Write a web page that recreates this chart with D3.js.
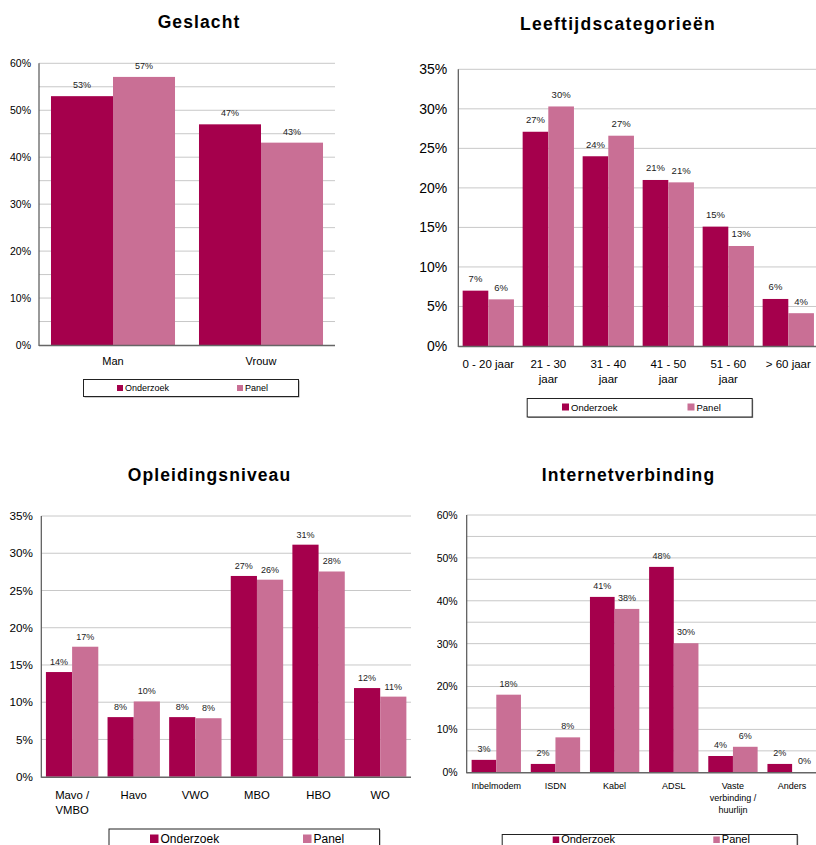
<!DOCTYPE html>
<html>
<head>
<meta charset="utf-8">
<script src="https://cdn.jsdelivr.net/npm/d3@7"></script>
<style>
  html, body { margin: 0; padding: 0; background: #fff; }
  svg { display: block; font-family: "Liberation Sans", Arial, sans-serif; }
</style>
</head>
<body>
<svg id="chart" width="816" height="845"></svg>
<script>
// ---------- DATA ----------
const seriesNames = ["Onderzoek", "Panel"];

const geslachtCategories = ["Man", "Vrouw"];
const geslachtOnderzoek = [53.0, 47.0];
const geslachtPanel = [57.1, 43.1];

const leeftijdCategories = ["0 - 20 jaar", "21 - 30|jaar", "31 - 40|jaar", "41 - 50|jaar", "51 - 60|jaar", "> 60 jaar"];
const leeftijdOnderzoek = [7.0, 27.1, 24.0, 21.0, 15.1, 5.95];
const leeftijdPanel = [5.9, 30.3, 26.6, 20.7, 12.65, 4.15];

const opleidingCategories = ["Mavo /|VMBO", "Havo", "VWO", "MBO", "HBO", "WO"];
const opleidingOnderzoek = [14.05, 8.0, 8.0, 26.95, 31.15, 11.9];
const opleidingPanel = [17.45, 10.1, 7.85, 26.45, 27.55, 10.75];

const internetCategories = ["Inbelmodem", "ISDN", "Kabel", "ADSL", "Vaste|verbinding /|huurlijn", "Anders"];
const internetOnderzoek = [2.9, 1.95, 40.9, 47.9, 3.8, 1.95];
const internetPanel = [18.1, 8.15, 38.1, 30.1, 5.95, 0.0];

const geslachtTicks = [0, 10, 20, 30, 40, 50, 60];
const leeftijdTicks = [0, 5, 10, 15, 20, 25, 30, 35];
const opleidingTicks = [0, 5, 10, 15, 20, 25, 30, 35];
const internetTicks = [0, 10, 20, 30, 40, 50, 60];

// ---------- STYLE ----------
const colors = ["#a5004c", "#c96f95"];
const svg = d3.select("#chart");

function drawChart(cfg) {
  const g = svg.append("g");
  const x = d3.scaleBand().domain(cfg.categories).range([cfg.x0, cfg.x1])
    .paddingInner(cfg.pad).paddingOuter(cfg.pad / 2);
  const xs = d3.scaleBand().domain(seriesNames).range([0, x.bandwidth()]);
  const y = d3.scaleLinear().domain([0, cfg.max]).range([cfg.y0, cfg.y1]);

  // gridlines every 5%
  const grid = d3.range(5, cfg.max + 0.1, 5);
  g.append("g").selectAll("line").data(grid).join("line")
    .attr("x1", cfg.x0).attr("x2", cfg.gridEnd)
    .attr("y1", d => y(d)).attr("y2", d => y(d))
    .attr("stroke", "#c8c8c8").attr("stroke-width", 1);

  // y axis labels
  const yAxis = d3.axisLeft(y).tickValues(cfg.ticks).tickSize(0).tickPadding(cfg.tickPad)
    .tickFormat(d => d + "%");
  const ya = g.append("g").attr("transform", `translate(${cfg.x0},0)`).call(yAxis);
  ya.select(".domain").remove();
  ya.selectAll("text").attr("font-size", cfg.tickFont).attr("fill", "#000")
    .attr("font-family", "Liberation Sans, Arial, sans-serif");

  // bars
  const rows = cfg.categories.map((c, i) => ({ c, vals: [cfg.s1[i], cfg.s2[i]] }));
  const grp = g.append("g").selectAll("g").data(rows).join("g")
    .attr("transform", d => `translate(${x(d.c)},0)`);
  grp.selectAll("rect").data(d => d.vals.map((v, k) => ({ v, k }))).join("rect")
    .attr("x", d => xs(seriesNames[d.k]))
    .attr("width", xs.bandwidth())
    .attr("y", d => y(d.v))
    .attr("height", d => y(0) - y(d.v))
    .attr("fill", d => colors[d.k]);
  grp.selectAll("text").data(d => d.vals.map((v, k) => ({ v, k }))).join("text")
    .attr("x", d => xs(seriesNames[d.k]) + xs.bandwidth() / 2)
    .attr("y", d => y(d.v) - cfg.valOff)
    .attr("text-anchor", "middle")
    .attr("font-size", cfg.valFont)
    .attr("fill", "#222")
    .text(d => Math.round(d.v) + "%");

  // axes lines
  g.append("line").attr("x1", cfg.x0).attr("x2", cfg.x0)
    .attr("y1", y(cfg.max)).attr("y2", y(0) + 1)
    .attr("stroke", "#555").attr("stroke-width", 1.2);
  g.append("line").attr("x1", cfg.x0).attr("x2", cfg.gridEnd)
    .attr("y1", y(0) + 0.5).attr("y2", y(0) + 0.5)
    .attr("stroke", "#666").attr("stroke-width", 1.6);

  // category labels
  const cat = g.append("g").selectAll("text").data(cfg.categories).join("text")
    .attr("x", d => x(d) + x.bandwidth() / 2)
    .attr("y", cfg.catY)
    .attr("text-anchor", "middle")
    .attr("font-size", cfg.catFont)
    .attr("fill", "#000");
  cat.selectAll("tspan").data(d => d.split("|")).join("tspan")
    .attr("x", function () { return d3.select(this.parentNode).attr("x"); })
    .attr("dy", (d, i) => i === 0 ? 0 : cfg.catLine)
    .text(d => d);

  // title
  g.append("text").attr("x", cfg.titleX).attr("y", cfg.titleY)
    .attr("text-anchor", "middle").attr("font-weight", "bold")
    .attr("font-size", 17.5).attr("letter-spacing", cfg.titleLs)
    .attr("fill", "#000").text(cfg.title);

  // legend
  const L = cfg.legend;
  g.append("rect").attr("x", L.x + 1.5).attr("y", L.y + 1.5).attr("width", L.w).attr("height", L.h)
    .attr("fill", "#999");
  g.append("rect").attr("x", L.x + 0.5).attr("y", L.y + 0.5).attr("width", L.w).attr("height", L.h)
    .attr("fill", "#fff").attr("stroke", "#222").attr("stroke-width", 1);
  seriesNames.forEach((s, k) => {
    g.append("rect").attr("x", L.sx[k]).attr("y", L.ty - L.sw)
      .attr("width", L.sw).attr("height", L.sw).attr("fill", colors[k]);
    g.append("text").attr("x", L.sx[k] + L.sw + 2).attr("y", L.ty)
      .attr("font-size", L.fs).attr("fill", "#000").text(s);
  });
}

drawChart({
  title: "Geslacht", titleX: 199, titleY: 28, titleLs: 1.1,
  categories: geslachtCategories, s1: geslachtOnderzoek, s2: geslachtPanel,
  x0: 39, x1: 335, gridEnd: 335, pad: 0.162, y0: 345, y1: 63.3, max: 60,
  ticks: geslachtTicks, tickFont: 10.5, tickPad: 8, valFont: 9, valOff: 8,
  catY: 365, catFont: 11, catLine: 14,
  legend: { x: 83, y: 379, w: 215, h: 17, sx: [117, 237], sw: 6, ty: 391, fs: 9 }
});

drawChart({
  title: "Leeftijdscategorieën", titleX: 618, titleY: 30, titleLs: 1.3,
  categories: leeftijdCategories, s1: leeftijdOnderzoek, s2: leeftijdPanel,
  x0: 458.3, x1: 818.3, gridEnd: 830, pad: 0.145, y0: 346, y1: 69.3, max: 35,
  ticks: leeftijdTicks, tickFont: 14, tickPad: 11, valFont: 9.5, valOff: 8.5,
  catY: 368, catFont: 11.5, catLine: 14.5,
  legend: { x: 526.7, y: 398, w: 225, h: 18.5, sx: [562, 687.5], sw: 7, ty: 410.5, fs: 9.5 }
});

drawChart({
  title: "Opleidingsniveau", titleX: 209.5, titleY: 481, titleLs: 1.1,
  categories: opleidingCategories, s1: opleidingOnderzoek, s2: opleidingPanel,
  x0: 41.3, x1: 411, gridEnd: 411, pad: 0.15, y0: 776.7, y1: 516, max: 35,
  ticks: opleidingTicks, tickFont: 11.7, tickPad: 8.5, valFont: 9, valOff: 7,
  catY: 799, catFont: 11.3, catLine: 15,
  legend: { x: 108.5, y: 828.5, w: 270.5, h: 30, sx: [150, 303], sw: 8.5, ty: 843, fs: 12 }
});

drawChart({
  title: "Internetverbinding", titleX: 628.5, titleY: 481, titleLs: 1.1,
  categories: internetCategories, s1: internetOnderzoek, s2: internetPanel,
  x0: 466.7, x1: 821.7, gridEnd: 830, pad: 0.166, y0: 772.3, y1: 515, max: 60,
  ticks: internetTicks, tickFont: 10.5, tickPad: 9, valFont: 9, valOff: 8,
  catY: 789, catFont: 9, catLine: 12,
  legend: { x: 501.7, y: 834, w: 295, h: 30, sx: [552.7, 713.3], sw: 6.5, ty: 843, fs: 11 }
});
</script>
</body>
</html>
